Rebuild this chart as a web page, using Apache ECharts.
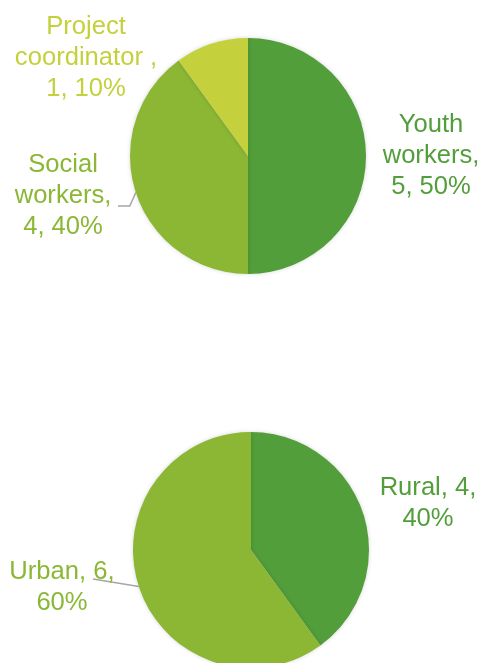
<!DOCTYPE html>
<html>
<head>
<meta charset="utf-8">
<style>
  html, body { margin: 0; padding: 0; background: #ffffff; }
  #chart { width: 484px; height: 663px; }
</style>
<script src="https://cdn.jsdelivr.net/npm/echarts@6/dist/echarts.min.js"></script>
</head>
<body>
<div id="chart"></div>
<script>
// Staff roles
const roleNames = ['Youth workers', 'Social workers', 'Project coordinator '];
const roleCounts = [5, 4, 1];
// Location of work
const areaNames = ['Rural', 'Urban'];
const areaCounts = [4, 6];

const DARK = '#529e3a', MID = '#8bb734', LIGHT = '#c4d13c';
const roleColors = [DARK, MID, LIGHT];
const areaColors = [DARK, MID];

const R = 118;
const topCenter = [248, 156];
const bottomCenter = [251, 550];

// label anchor positions (centre of each text block)
const roleLabelPos = [[431, 156], [63, 196], [86, 58]];
const areaLabelPos = [[428, 503], [62, 587]];

const chart = echarts.init(document.getElementById('chart'));

function edgePoint(center, values, idx) {
  // mid-angle of slice idx on the rim, pie starting at 12 o'clock, clockwise
  const total = values.reduce((a, b) => a + b, 0);
  let before = 0;
  for (let i = 0; i < idx; i++) before += values[i];
  const midFrac = (before + values[idx] / 2) / total;
  const a = Math.PI / 2 - midFrac * 2 * Math.PI;
  return [center[0] + R * Math.cos(a), center[1] - R * Math.sin(a)];
}

const labelBase = {
  show: true,
  position: 'outside',
  alignTo: 'none',
  overflow: 'none',
  fontFamily: 'Liberation Sans, Arial, sans-serif',
  fontSize: 25.6,
  lineHeight: 31,
  align: 'center'
};

const sliceStyle = { shadowBlur: 4, shadowColor: 'rgba(0,0,0,0.16)' };

chart.setOption({
  animation: false,
  series: [
    {
      type: 'pie',
      center: topCenter,
      radius: R,
      startAngle: 90,
      clockwise: true,
      itemStyle: sliceStyle,
      label: Object.assign({}, labelBase, {
        formatter: p => p.name.replace(' ', '\n') + ',\n' + p.value + ', ' + p.percent + '%'
      }),
      labelLine: { show: false, lineStyle: { color: '#a6a6a6', width: 1.5 } },
      labelLayout: p => {
        const pos = roleLabelPos[p.dataIndex];
        const out = { x: pos[0], y: pos[1], align: 'center', verticalAlign: 'middle' };
        if (p.dataIndex === 1) {
          const e = edgePoint(topCenter, roleCounts, 1);
          out.labelLinePoints = [e, [e[0] - 6, 206], [118, 206]];
        }
        return out;
      },
      data: roleNames.map((n, i) => ({
        name: n,
        value: roleCounts[i],
        itemStyle: { color: roleColors[i] },
        label: { color: roleColors[i] },
        labelLine: { show: i === 1 }
      }))
    },
    {
      type: 'pie',
      center: bottomCenter,
      radius: R,
      startAngle: 90,
      clockwise: true,
      itemStyle: sliceStyle,
      label: Object.assign({}, labelBase, {
        formatter: p => p.name + ', ' + p.value + ',\n' + p.percent + '%'
      }),
      labelLine: { show: false, lineStyle: { color: '#a6a6a6', width: 1.5 } },
      labelLayout: p => {
        const pos = areaLabelPos[p.dataIndex];
        const out = { x: pos[0], y: pos[1], align: 'center', verticalAlign: 'middle' };
        if (p.dataIndex === 1) {
          const e = edgePoint(bottomCenter, areaCounts, 1);
          const end = [93, 579];
          out.labelLinePoints = [e, [(e[0] + end[0]) / 2, (e[1] + end[1]) / 2], end];
        }
        return out;
      },
      data: areaNames.map((n, i) => ({
        name: n,
        value: areaCounts[i],
        itemStyle: { color: areaColors[i] },
        label: { color: areaColors[i] },
        labelLine: { show: i === 1 }
      }))
    }
  ]
});
</script>
</body>
</html>
